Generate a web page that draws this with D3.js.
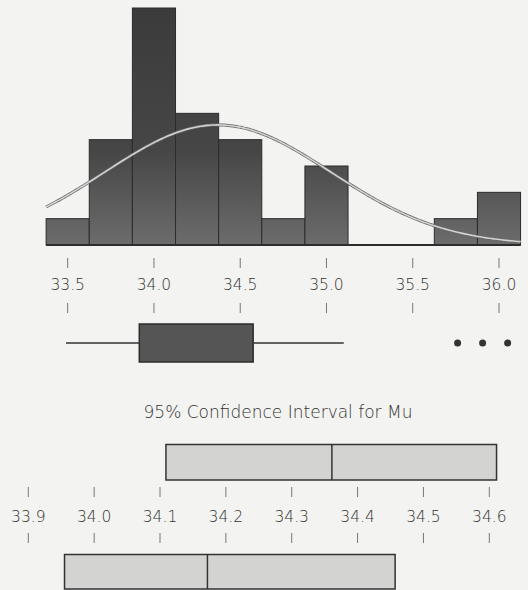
<!DOCTYPE html>
<html>
<head>
<meta charset="utf-8">
<script src="https://cdn.jsdelivr.net/npm/d3@7/dist/d3.min.js"></script>
<style>
  html, body { margin: 0; padding: 0; background: #f3f3f1; }
  svg { display: block; }
  text { font-family: "DejaVu Sans", sans-serif; font-weight: 200; fill: #333; }
</style>
</head>
<body>
<script>
// ---- data ----
const binCenters = [33.5, 33.75, 34.0, 34.25, 34.5, 34.75, 35.0, 35.25, 35.5, 35.75, 36.0];
const binCounts  = [1, 4, 9, 5, 4, 1, 3, 0, 0, 1, 2];
const binWidth = 0.25;
const fitMean = 34.37;
const fitSd = 0.656;
const histTicks = [33.5, 34.0, 34.5, 35.0, 35.5, 36.0];
const histTickLabels = ["33.5", "34.0", "34.5", "35.0", "35.5", "36.0"];
const boxStats = { low: 33.49, q1: 33.915, q3: 34.575, high: 35.1 };
const outliers = [35.76, 35.905, 36.05];
const ciTitle = "95% Confidence Interval for Mu";
const ciMu = [34.109, 34.361, 34.611];      // lower, mean, upper
const ciMedian = [33.955, 34.172, 34.457];  // lower, median, upper
const ciTicks = [33.9, 34.0, 34.1, 34.2, 34.3, 34.4, 34.5, 34.6];
const ciTickLabels = ["33.9", "34.0", "34.1", "34.2", "34.3", "34.4", "34.5", "34.6"];

const W = 528, H = 590;
const svg = d3.select("body").append("svg").attr("width", W).attr("height", H);
svg.append("rect").attr("width", W).attr("height", H).attr("fill", "#f3f3f1");

const defs = svg.append("defs");
const grad = defs.append("linearGradient").attr("id", "barGrad")
  .attr("gradientUnits", "userSpaceOnUse").attr("x1", 0).attr("x2", 0).attr("y1", 8).attr("y2", 245);
grad.append("stop").attr("offset", "0%").attr("stop-color", "#3b3b3b");
grad.append("stop").attr("offset", "60%").attr("stop-color", "#464646");
grad.append("stop").attr("offset", "100%").attr("stop-color", "#6c6c6c");

// ---- histogram ----
const x1 = d3.scaleLinear().domain([33.5, 36.0]).range([67.7, 499]);
const y1 = d3.scaleLinear().domain([0, 9]).range([245, 8]);

svg.append("g").selectAll("rect").data(binCenters.map((c, i) => ({c, n: binCounts[i]})).filter(d => d.n > 0))
  .join("rect")
  .attr("x", d => x1(d.c - binWidth / 2))
  .attr("width", d => x1(d.c + binWidth / 2) - x1(d.c - binWidth / 2))
  .attr("y", d => y1(d.n))
  .attr("height", d => y1(0) - y1(d.n))
  .attr("fill", "url(#barGrad)")
  .attr("stroke", "#2c2c2c").attr("stroke-width", 1);

svg.append("line")
  .attr("x1", x1(binCenters[0] - binWidth / 2)).attr("x2", x1(binCenters[binCenters.length - 1] + binWidth / 2))
  .attr("y1", y1(0)).attr("y2", y1(0))
  .attr("stroke", "#2c2c2c").attr("stroke-width", 2);

// normal fit curve
const n = d3.sum(binCounts);
const xs = d3.range(0, 201).map(i => (binCenters[0] - binWidth / 2) + i * ((binCenters.length * binWidth) / 200));
const dens = v => n * binWidth / (fitSd * Math.sqrt(2 * Math.PI)) * Math.exp(-0.5 * ((v - fitMean) / fitSd) ** 2);
const line = d3.line().x(v => x1(v)).y(v => y1(dens(v))).curve(d3.curveBasis);
svg.append("path").attr("d", line(xs)).attr("fill", "none").attr("stroke", "#666").attr("stroke-width", 3);
svg.append("path").attr("d", line(xs)).attr("fill", "none").attr("stroke", "#d2d2d2").attr("stroke-width", 1.6);

// ---- axes ----
function tickAxis(scale, ticks, labels, yTickTop, yLabel, yTickBot) {
  const g = svg.append("g");
  g.selectAll("line.t").data(ticks).join("line")
    .attr("x1", d => scale(d)).attr("x2", d => scale(d))
    .attr("y1", yTickTop).attr("y2", yTickTop + 10)
    .attr("stroke", "#777").attr("stroke-width", 1);
  g.selectAll("line.b").data(ticks).join("line")
    .attr("x1", d => scale(d)).attr("x2", d => scale(d))
    .attr("y1", yTickBot).attr("y2", yTickBot + 10)
    .attr("stroke", "#777").attr("stroke-width", 1);
  g.selectAll("text").data(ticks).join("text")
    .attr("x", d => scale(d)).attr("y", yLabel)
    .attr("text-anchor", "middle").attr("font-size", 15.5)
    .text((d, i) => labels[i]);
}
tickAxis(x1, histTicks, histTickLabels, 258, 290, 303);

// ---- boxplot ----
const by = 343, bTop = 324, bBot = 362;
svg.append("line").attr("x1", x1(boxStats.low)).attr("x2", x1(boxStats.q1)).attr("y1", by).attr("y2", by)
  .attr("stroke", "#333").attr("stroke-width", 1.5);
svg.append("line").attr("x1", x1(boxStats.q3)).attr("x2", x1(boxStats.high)).attr("y1", by).attr("y2", by)
  .attr("stroke", "#333").attr("stroke-width", 1.5);
svg.append("rect").attr("x", x1(boxStats.q1)).attr("width", x1(boxStats.q3) - x1(boxStats.q1))
  .attr("y", bTop).attr("height", bBot - bTop)
  .attr("fill", "#555").attr("stroke", "#2c2c2c").attr("stroke-width", 1.5);
svg.append("g").selectAll("circle").data(outliers).join("circle")
  .attr("cx", d => x1(d)).attr("cy", by).attr("r", 3.5).attr("fill", "#333");

// ---- confidence intervals ----
const x2 = d3.scaleLinear().domain([33.9, 34.6]).range([28.3, 489.3]);
svg.append("text").attr("x", 278).attr("y", 418).attr("text-anchor", "middle")
  .attr("font-size", 17).text(ciTitle);

function ciBox(ci, yTop, yBot) {
  svg.append("rect").attr("x", x2(ci[0])).attr("width", x2(ci[2]) - x2(ci[0]))
    .attr("y", yTop).attr("height", yBot - yTop)
    .attr("fill", "#d3d3d1").attr("stroke", "#333").attr("stroke-width", 1.5);
  svg.append("line").attr("x1", x2(ci[1])).attr("x2", x2(ci[1])).attr("y1", yTop).attr("y2", yBot)
    .attr("stroke", "#333").attr("stroke-width", 1.5);
}
ciBox(ciMu, 444.5, 480);
tickAxis(x2, ciTicks, ciTickLabels, 487, 522, 533);
ciBox(ciMedian, 554.5, 589);
</script>
</body>
</html>
